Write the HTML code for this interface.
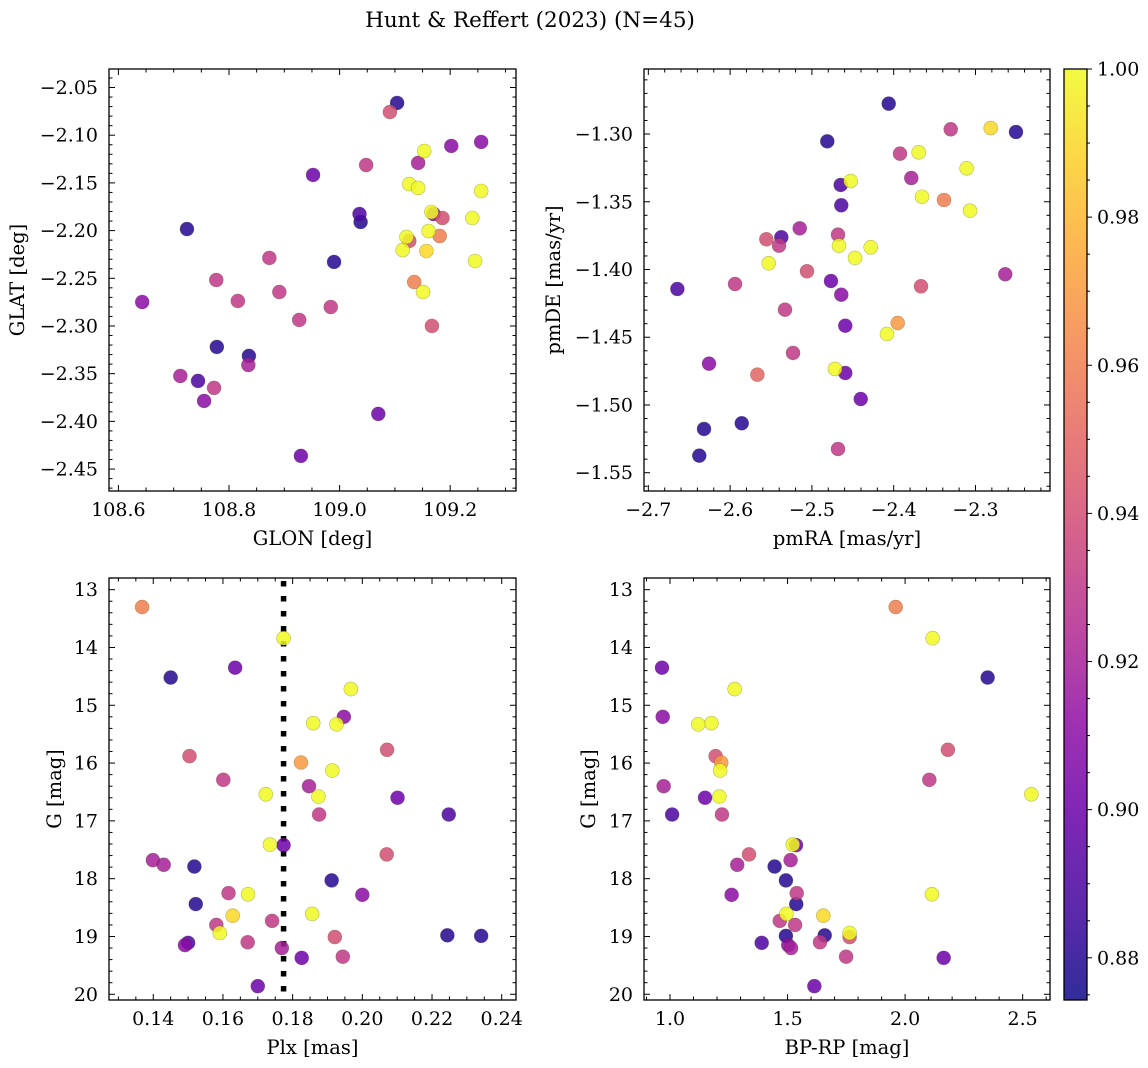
<!DOCTYPE html>
<html><head><meta charset="utf-8">
<style>
html,body{margin:0;padding:0;background:#fff;}
svg{display:block;font-family:"DejaVu Serif","Liberation Serif",serif;}
</style></head>
<body>
<svg id="fig" width="1148" height="1068" viewBox="0 0 1148 1068" xmlns="http://www.w3.org/2000/svg">
<text x="530" y="27" font-size="21.5" text-anchor="middle">Hunt &amp; Reffert (2023) (N=45)</text>
</svg>
<script>
// ---- Panel 1: GLON / GLAT ----
const glon = [109.104,109.091,109.202,109.256,109.153,109.142,109.048,108.952,109.126,109.142,109.256,109.166,109.170,109.186,109.240,109.036,109.038,108.724,109.161,109.181,109.121,109.126,109.114,109.157,108.873,108.990,109.245,108.777,109.135,109.151,108.643,108.816,108.891,108.984,108.927,109.167,108.778,108.836,108.835,108.712,108.744,108.773,108.755,109.070,108.930];
const glat = [-2.0662,-2.0757,-2.1113,-2.1071,-2.1166,-2.1291,-2.1313,-2.1417,-2.1512,-2.1553,-2.1585,-2.1805,-2.1826,-2.1868,-2.1868,-2.1826,-2.1910,-2.1984,-2.2005,-2.2057,-2.2067,-2.2109,-2.2204,-2.2214,-2.2287,-2.2329,-2.2319,-2.2518,-2.2539,-2.2644,-2.2749,-2.2738,-2.2644,-2.2801,-2.2937,-2.3000,-2.3220,-2.3314,-2.3409,-2.3524,-2.3576,-2.3649,-2.3786,-2.3922,-2.4362];
const prob1 = [0.88,0.94,0.91,0.91,1.0,0.92,0.93,0.90,1.0,1.0,1.0,1.0,0.91,0.94,1.0,0.89,0.88,0.88,1.0,0.96,1.0,0.94,1.0,0.99,0.93,0.88,1.0,0.93,0.96,1.0,0.91,0.93,0.93,0.93,0.93,0.94,0.88,0.88,0.92,0.92,0.89,0.93,0.91,0.90,0.90];
// ---- Panel 2: pmRA / pmDE ----
const pmra = [-2.4061,-2.3303,-2.2814,-2.2505,-2.4812,-2.3923,-2.3694,-2.3108,-2.3785,-2.4648,-2.4526,-2.3654,-2.3385,-2.3067,-2.4641,-2.5149,-2.5557,-2.5374,-2.5402,-2.4681,-2.4669,-2.4281,-2.4473,-2.5528,-2.5060,-2.4767,-2.6645,-2.2636,-2.3666,-2.5940,-2.4641,-2.5329,-2.4592,-2.3951,-2.4082,-2.5231,-2.6258,-2.5667,-2.4718,-2.4592,-2.4403,-2.6319,-2.5858,-2.6377,-2.4681];
const pmde = [-1.2776,-1.2965,-1.2956,-1.2985,-1.3054,-1.3145,-1.3135,-1.3253,-1.3325,-1.3376,-1.3347,-1.3463,-1.3487,-1.3566,-1.3526,-1.3696,-1.3777,-1.3762,-1.3824,-1.3743,-1.3824,-1.3836,-1.3915,-1.3954,-1.4013,-1.4085,-1.4144,-1.4035,-1.4124,-1.4107,-1.4186,-1.4297,-1.4415,-1.4395,-1.4476,-1.4616,-1.4695,-1.4776,-1.4734,-1.4764,-1.4956,-1.5177,-1.5135,-1.5374,-1.5325];
const prob2 = [0.88,0.93,0.99,0.88,0.88,0.93,1.0,1.0,0.92,0.89,1.0,1.0,0.96,1.0,0.89,0.92,0.94,0.89,0.93,0.93,1.0,1.0,1.0,1.0,0.94,0.90,0.89,0.92,0.94,0.93,0.91,0.93,0.90,0.97,1.0,0.93,0.91,0.95,1.0,0.90,0.90,0.88,0.88,0.88,0.93];
// ---- Panels 3 & 4: Plx / BP-RP vs G ----
const plx = [0.1368,0.1774,0.1635,0.1450,0.1967,0.1947,0.1859,0.1926,0.2071,0.1504,0.1824,0.1914,0.1601,0.1847,0.1723,0.1874,0.2101,0.1876,0.2248,0.1735,0.1774,0.1399,0.1430,0.1518,0.2070,0.1912,0.2000,0.1616,0.1672,0.1522,0.1628,0.1856,0.1581,0.1741,0.1591,0.1921,0.2244,0.2341,0.1500,0.1491,0.1671,0.1769,0.1826,0.1944,0.1700];
const gmag = [13.30,13.84,14.35,14.52,14.72,15.20,15.31,15.33,15.77,15.88,15.99,16.13,16.29,16.40,16.54,16.58,16.60,16.89,16.89,17.41,17.42,17.68,17.76,17.79,17.58,18.03,18.28,18.25,18.27,18.44,18.64,18.61,18.80,18.73,18.94,19.01,18.98,18.99,19.11,19.15,19.10,19.20,19.37,19.35,19.86];
const bprp = [1.96,2.117,0.966,2.351,1.275,0.969,1.176,1.120,2.182,1.194,1.218,1.213,2.103,0.973,2.537,1.210,1.149,1.221,1.009,1.522,1.536,1.513,1.286,1.445,1.336,1.493,1.262,1.539,2.114,1.537,1.652,1.495,1.532,1.467,1.764,1.764,1.658,1.493,1.390,1.503,1.638,1.515,2.164,1.749,1.614];
const prob3 = [0.96,1.0,0.90,0.88,1.0,0.91,1.0,1.0,0.94,0.94,0.97,1.0,0.93,0.92,1.0,1.0,0.90,0.93,0.89,1.0,0.90,0.92,0.92,0.88,0.94,0.88,0.91,0.93,1.0,0.88,0.99,1.0,0.93,0.93,1.0,0.94,0.88,0.88,0.89,0.91,0.93,0.92,0.90,0.93,0.90];
const plxMedian = [0.1774];
const cbTicks = [0.88,0.90,0.92,0.94,0.96,0.98,1.00];

const NS = "http://www.w3.org/2000/svg";
const svg = document.getElementById('fig');
function mk(tag, attrs, parent){const e=document.createElementNS(NS,tag);for(const k in attrs)e.setAttribute(k,attrs[k]);(parent||svg).appendChild(e);return e;}

const plasma=[[13,8,135],[65,4,157],[106,0,168],[143,13,164],[177,42,144],[204,71,120],[225,100,98],[242,132,75],[252,166,54],[252,206,37],[240,249,33]];
const VMIN=0.8743, VMAX=1.0;
const TFS=19, LFS=19.5;
function cmap(p){let t=(p-VMIN)/(VMAX-VMIN);t=Math.max(0,Math.min(1,t));const f=t*10,i=Math.min(9,Math.floor(f)),r=f-i;const a=plasma[i],b=plasma[i+1];return 'rgb('+[0,1,2].map(k=>Math.round(a[k]+(b[k]-a[k])*r)).join(',')+')';}
function fmt(v,d){const s=Math.abs(v).toFixed(d);return (v<-1e-9?'\u2212':'')+s;}

function panel(cfg){
  const {x0,y0,w,h,xmin,xmax,ymin,ymax,invY,name}=cfg;
  const sx=v=>x0+(v-xmin)/(xmax-xmin)*w;
  const sy=invY?(v=>y0+(v-ymin)/(ymax-ymin)*h):(v=>y0+h-(v-ymin)/(ymax-ymin)*h);
  const g=mk('g',{});
  
  
  const tg=mk('g',{stroke:'#000','stroke-width':1},g);
  function ticksAxis(min,max,start,step,ndiv,dec,isX){
    const mstep=step/ndiv;
    for(let v=start-step;v<=max+1e-9;v+=mstep){
      if(v<min-1e-9)continue;
      const idx=Math.round((v-start)/mstep);
      const major=idx%ndiv===0;
      const L=major?6:3.5;
      if(isX){const x=sx(v);mk('line',{x1:x,x2:x,y1:y0+h,y2:y0+h-L},tg);mk('line',{x1:x,x2:x,y1:y0,y2:y0+L},tg);
        if(major){const t=mk('text',{x:x,y:y0+h+25,'font-size':TFS,'text-anchor':'middle',stroke:'none',fill:'#000'},g);t.textContent=fmt(v,dec);
          
          }}
      else{const y=sy(v);mk('line',{x1:x0,x2:x0+L,y1:y,y2:y},tg);mk('line',{x1:x0+w,x2:x0+w-L,y1:y,y2:y},tg);
        if(major){const t=mk('text',{x:x0-11,y:y+6.5,'font-size':TFS,'text-anchor':'end',stroke:'none',fill:'#000'},g);t.textContent=fmt(v,dec);
          
          }}
    }
  }
  ticksAxis(xmin,xmax,cfg.xs,cfg.xstep,cfg.xdiv,cfg.xdec,true);
  ticksAxis(Math.min(ymin,ymax),Math.max(ymin,ymax),cfg.ys,cfg.ystep,cfg.ydiv,cfg.ydec,false);
  if(cfg.vline){cfg.vline.forEach(v=>{const l=mk('line',{x1:sx(v),x2:sx(v),y1:y0+3,y2:y0+h,stroke:'#000','stroke-width':5.5,'stroke-dasharray':'5.5 9.5'},g);
    
    });}
  const idx=cfg.xs_.map((_,i)=>i).sort((a,b)=>cfg.p[a]-cfg.p[b]);
  idx.forEach(i=>{const c=mk('circle',{cx:sx(cfg.xs_[i]),cy:sy(cfg.ys_[i]),r:7,fill:cmap(cfg.p[i]),'fill-opacity':0.85,stroke:'rgba(60,60,0,0.35)','stroke-width':0.6},g);
    
    });
  const fr=mk('rect',{x:x0,y:y0,width:w,height:h,fill:'none',stroke:'#000','stroke-width':1.3},g);
  
  
  const xl=mk('text',{x:x0+w/2,y:y0+h+54,'font-size':LFS,'text-anchor':'middle'},g);xl.textContent=cfg.xlabel;
  
  
  const yl=mk('text',{x:0,y:0,'font-size':LFS,'text-anchor':'middle',transform:'translate('+cfg.ylx+','+(y0+h/2)+') rotate(-90)'},g);yl.textContent=cfg.ylabel;
  
  
}

panel({name:'glon-glat-panel',x0:109,y0:69,w:407,h:422,xmin:108.583,xmax:109.319,ymin:-2.473,ymax:-2.0306,invY:false,
  xs:108.6,xstep:0.2,xdiv:4,xdec:1,ys:-2.45,ystep:0.05,ydiv:5,ydec:2,xs_:glon,ys_:glat,p:prob1,xlabel:'GLON [deg]',ylabel:'GLAT [deg]',ylx:24});
panel({name:'pm-panel',x0:644,y0:69,w:406,h:422,xmin:-2.7053,xmax:-2.2089,ymin:-1.5635,ymax:-1.252,invY:false,
  xs:-2.7,xstep:0.1,xdiv:5,xdec:1,ys:-1.55,ystep:0.05,ydiv:5,ydec:2,xs_:pmra,ys_:pmde,p:prob2,xlabel:'pmRA [mas/yr]',ylabel:'pmDE [mas/yr]',ylx:560});
panel({name:'plx-g-panel',x0:109,y0:578,w:407,h:422,xmin:0.1273,xmax:0.2441,ymin:12.798,ymax:20.099,invY:true,
  xs:0.14,xstep:0.02,xdiv:4,xdec:2,ys:13,ystep:1,ydiv:5,ydec:0,xs_:plx,ys_:gmag,p:prob3,vline:plxMedian,xlabel:'Plx [mas]',ylabel:'G [mag]',ylx:61});
panel({name:'cmd-panel',x0:644,y0:578,w:406,h:422,xmin:0.8894,xmax:2.6163,ymin:12.798,ymax:20.099,invY:true,
  xs:1.0,xstep:0.5,xdiv:5,xdec:1,ys:13,ystep:1,ydiv:5,ydec:0,xs_:bprp,ys_:gmag,p:prob3,xlabel:'BP-RP [mag]',ylabel:'G [mag]',ylx:595});

// ---- colorbar ----
const cbx=1064,cby=69,cbw=23,cbh=931;
const defs=mk('defs',{});
const grad=mk('linearGradient',{id:'cbg',x1:0,y1:1,x2:0,y2:0},defs);
for(let i=0;i<=20;i++){const t=i/20;mk('stop',{offset:t,'stop-color':cmap(VMIN+t*(VMAX-VMIN))},grad);}
const cb=mk('rect',{x:cbx,y:cby,width:cbw,height:cbh,fill:'url(#cbg)','fill-opacity':0.85,stroke:'#000','stroke-width':1.3});


const cy=v=>cby+cbh-(v-VMIN)/(VMAX-VMIN)*cbh;
for(let v=0.875;v<=1.0001;v+=0.005){const y=cy(v);const major=cbTicks.some(t=>Math.abs(t-v)<1e-6);
  mk('line',{x1:cbx+cbw,x2:cbx+cbw+(major?5:3),y1:y,y2:y,stroke:'#000','stroke-width':1});}
cbTicks.forEach(v=>{const t=mk('text',{x:cbx+cbw+10,y:cy(v)+6.5,'font-size':TFS});t.textContent=v.toFixed(2);
  
  });
</script>
</body></html>
